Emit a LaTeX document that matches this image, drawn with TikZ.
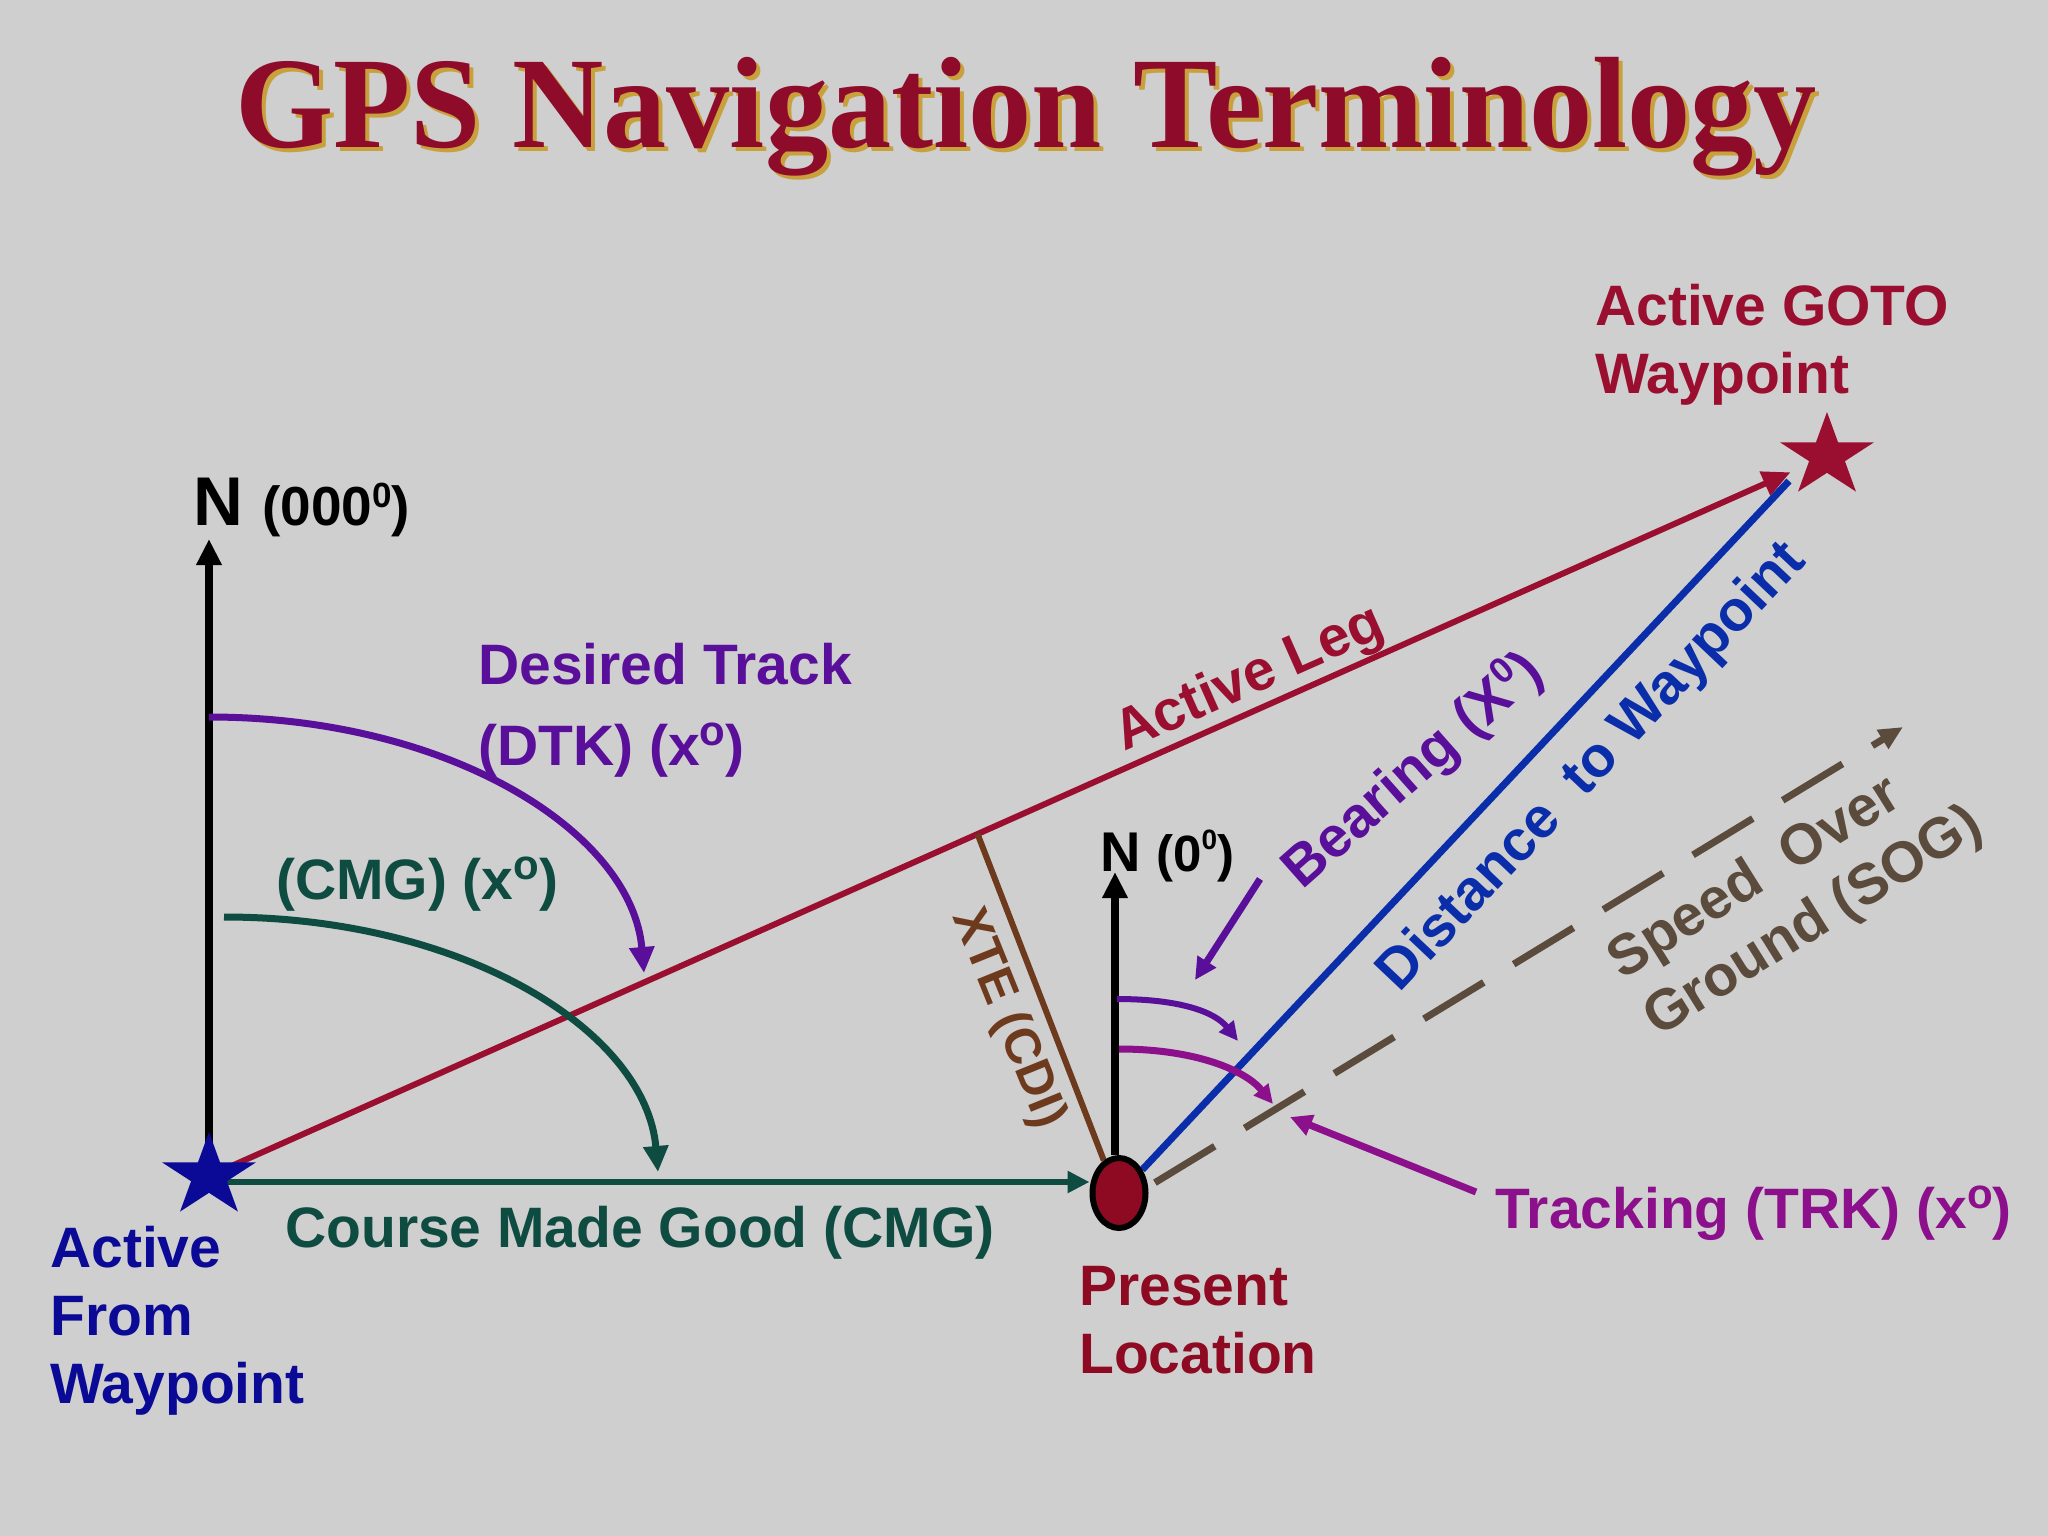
\documentclass[tikz,border=0pt]{standalone}
\usepackage{fontspec}
\usepackage{graphicx}
\setmainfont{Liberation Sans}
\newfontfamily\ttlfont{Liberation Serif}
\usetikzlibrary{arrows.meta,shapes.geometric,calc}
\pgfdeclarelayer{back}
\pgfdeclarelayer{lines}
\pgfsetlayers{back,lines,main}
\definecolor{bgc}{HTML}{CFCFCF}
\definecolor{ttlred}{HTML}{8E0B2A}
\definecolor{ttlgold}{HTML}{C8A03C}
\definecolor{legred}{HTML}{9A0F2F}
\definecolor{navy}{HTML}{0A0A96}
\definecolor{dblue}{HTML}{0A2DAA}
\definecolor{dpurple}{HTML}{5A0F9B}
\definecolor{mag}{HTML}{8C0F8C}
\definecolor{dgreen}{HTML}{0E4B40}
\definecolor{xtebrown}{HTML}{6E3A1E}
\definecolor{sogbrown}{HTML}{5A4B3C}
\definecolor{presred}{HTML}{8E0A22}
\newcommand{\myfs}[2]{\fontsize{#1}{#2}\selectfont}
\newcommand{\mysup}[3]{\raisebox{#2}{\myfs{#1}{#1}#3}}
\begin{document}
\begin{tikzpicture}[x=1pt,y=-1pt,
  lbl/.style={inner sep=0pt, align=left, font=\bfseries\myfs{57}{68}},
  bigtip/.style={-{Triangle[length=26pt,width=24pt]}},
  midtip/.style={-{Triangle[length=22pt,width=21pt]}},
  smalltip/.style={-{Triangle[length=19pt,width=18pt]}},
  nline/.style={draw=black, line width=8pt, bigtip},
  starnode/.style={star, star points=5, star point ratio=2.618, minimum size=88pt, inner sep=0pt, transform shape},
]
\begin{pgfonlayer}{back}
\fill[bgc] (0,0) rectangle (2048,1536);
\end{pgfonlayer}
\useasboundingbox (0,0) rectangle (2048,1536);

% title
\node[anchor=base, inner sep=0pt, text=ttlgold] (ttlsh) at (1030,152) {\ttlfont\bfseries\myfs{130}{130}\scalebox{0.972}[1]{GPS Navigation Terminology}};
\node[anchor=base, inner sep=0pt, text=ttlred] (ttl) at (1026,148) {\ttlfont\bfseries\myfs{130}{130}\scalebox{0.972}[1]{GPS Navigation Terminology}};

% waypoints and present location
\begin{scope}[shift={(209,1176)}, xscale=1.12]
\node[starnode, fill=navy] (fromwp) at (0,0) {};
\end{scope}
\begin{scope}[shift={(1827,456)}, xscale=1.12]
\node[starnode, fill=legred] (gotowp) at (0,0) {};
\end{scope}
\node[ellipse, draw=black, line width=6pt, fill=presred, minimum width=53pt, minimum height=70pt, inner sep=0pt] (present) at (1119,1193) {};

% free ends
\coordinate (lN) at (209,539);
\coordinate (pN) at (1115,872);
\coordinate (cmgS) at (209,1182);
\coordinate (distEnd) at (1789,481);
\coordinate (sogEnd) at (1903,727);
\coordinate (dtkS) at (209,717);
\coordinate (dtkE) at (644,973);
\coordinate (cmgaS) at (224,917);
\coordinate (cmgaE) at (658,1172);
\coordinate (brgS) at (1117,999);
\coordinate (brgE) at (1238,1041);
\coordinate (trkS) at (1119,1049);
\coordinate (trkE) at (1273,1104);
\coordinate (brgA) at (1260,879);
\coordinate (brgAE) at (1195,980);
\coordinate (trkA) at (1476,1192);
\coordinate (trkAE) at (1290,1117);

\begin{pgfonlayer}{lines}
\draw[nline] (fromwp.center) -- (lN);
\draw[nline] (present.north -| pN) -- (pN);
\draw[draw=dgreen, line width=6pt, midtip] (cmgS) -- (cmgS -| present.west);
\draw[draw=legred, line width=6pt, -{Triangle[length=28pt,width=25pt]}, shorten >=40pt] (fromwp.center) -- (gotowp.center);
\coordinate (xteTop) at ($(fromwp.center)!0.475!(gotowp.center)$);
\draw[draw=xtebrown, line width=6pt] (xteTop) -- (present.115);
\draw[draw=dblue, line width=7pt] (present.45) -- (distEnd);
\draw[draw=sogbrown, line width=7pt, dash pattern=on 70pt off 35pt, shorten <=8pt, -{Triangle[length=24pt,width=21pt]}] (present.12) -- (sogEnd);
\draw[draw=dpurple, line width=7pt, bigtip] (dtkS) .. controls (449,717) and (632,832) .. (dtkE);
\draw[draw=dgreen, line width=7pt, bigtip] (cmgaS) .. controls (464,917) and (646,1031) .. (cmgaE);
\draw[draw=dpurple, line width=6pt, smalltip] (brgS) .. controls (1180,999) and (1215,1012) .. (brgE);
\draw[draw=mag, line width=7pt, smalltip] (trkS) .. controls (1195,1049) and (1245,1070) .. (trkE);
\draw[draw=dpurple, line width=7pt, midtip] (brgA) -- (brgAE);
\draw[draw=mag, line width=7pt, midtip] (trkA) -- (trkAE);
\end{pgfonlayer}

% labels
\node[lbl, anchor=base west, text=black] (nL) at (193,525) {\myfs{69}{68}N \myfs{55}{68}(000\mysup{35}{18pt}{0})};
\node[lbl, anchor=base west, text=black] (nR) at (1100,871) {\myfs{56}{68}N \myfs{51}{68}(0\mysup{28}{22pt}{0})};
\node[lbl, anchor=base west, text=dpurple] (dtkl) at (478,765) {Desired Track\\[13pt](DTK) (x\mysup{42}{20pt}{o})};
\node[lbl, anchor=base west, text=dgreen] (cmgl) at (276,899) {(CMG) (x\mysup{42}{20pt}{o})};
\node[lbl, anchor=base west, text=dgreen] (cmgt) at (285,1247) {Course Made Good (CMG)};
\node[lbl, anchor=base west, text=navy] (fwl) at (50,1403) {Active\\From\\Waypoint};
\node[lbl, anchor=base west, text=presred] (pl) at (1079,1373) {Present\\Location};
\node[lbl, anchor=base west, text=legred] (gl) at (1595,393) {Active GOTO\\Waypoint};
\node[lbl, anchor=base west, text=mag] (trkl) at (1495,1228) {Tracking (TRK) (x\mysup{42}{20pt}{o})};
\node[lbl, rotate=23.9, text=legred] (legl) at (1250,680) {Active Leg};
\node[lbl, rotate=41.5, text=dpurple] (brgl) at (1413,771) {Bearing (X\mysup{36}{20pt}{0})};
\node[lbl, rotate=46.6, text=dblue] (dstl) at (1593,768) {Distance\ \ to Waypoint};
\node[inner sep=0pt, rotate=-68, text=xtebrown, font=\bfseries\myfs{50}{60}] (xtel) at (1008,1019) {XTE (CDI)};
\node[lbl, rotate=32, text=sogbrown] (sogl) at (1796,894) {Speed\ \ Over\\Ground (SOG)};
\end{tikzpicture}
\end{document}
